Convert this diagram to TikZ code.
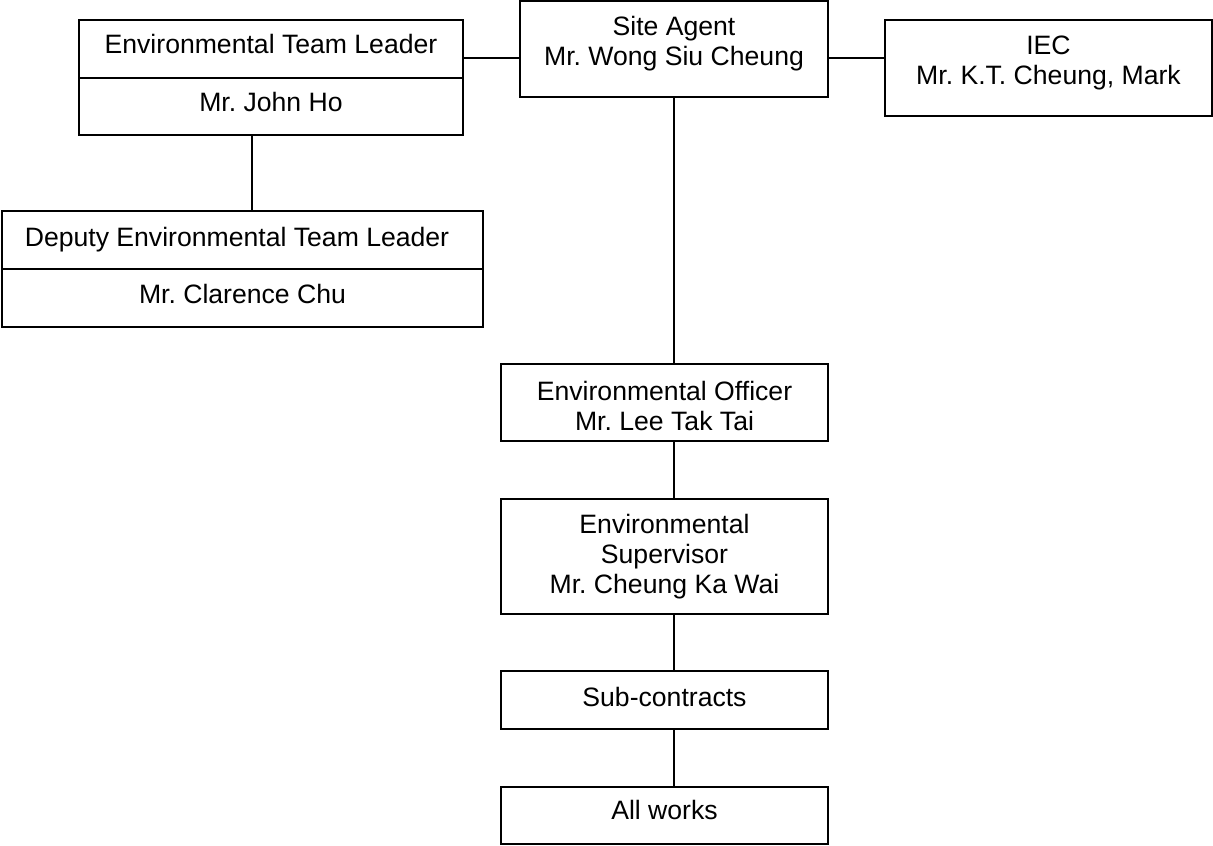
\documentclass[tikz,border=0pt]{standalone}
\usepackage{fontspec}
\setmainfont{Liberation Sans}
\newcommand{\mlines}[1]{\begin{tabular}[t]{@{}c@{}}#1\end{tabular}}
\begin{document}
\frenchspacing
\begin{tikzpicture}[x=1pt,y=-1pt,
  box/.style={draw, rectangle, line width=2pt, inner sep=0pt, outer sep=0pt},
  txt/.style={inner sep=0pt, anchor=base, font=\fontsize{26.6}{30}\selectfont\frenchspacing},
  conn/.style={line width=1.5pt}]
\useasboundingbox (0,0) rectangle (1213,846);
% boxes
\node[box, minimum width=384pt, minimum height=58pt] (etlA) at (271,49) {};
\node[box, minimum width=384pt, minimum height=57pt] (etlB) at (271,106.5) {};
\node[box, minimum width=308pt, minimum height=96pt] (sa) at (674,49) {};
\node[box, minimum width=327pt, minimum height=96pt] (iec) at (1048.5,68) {};
\node[box, minimum width=481pt, minimum height=58pt] (depA) at (242.5,240) {};
\node[box, minimum width=481pt, minimum height=58pt] (depB) at (242.5,298) {};
\node[box, minimum width=327pt, minimum height=77pt] (eo) at (664.5,402.5) {};
\node[box, minimum width=327pt, minimum height=115pt] (es) at (664.5,556.5) {};
\node[box, minimum width=327pt, minimum height=58pt] (sc) at (664.5,700) {};
\node[box, minimum width=327pt, minimum height=57pt] (aw) at (664.5,815.5) {};
% texts
\node[txt] (tetlA) at (271,53) {Environmental Team Leader};
\node[txt] (tetlB) at (271,111) {Mr. John Ho};
\node[txt] (tsa) at (674,35) {\mlines{Site Agent\\Mr. Wong Siu Cheung}};
\node[txt] (tiec) at (1048.5,54.5) {\mlines{IEC\\Mr. K.T. Cheung, Mark}};
\node[txt] (tdepA) at (237,246) {Deputy Environmental Team Leader};
\node[txt] (tdepB) at (242.5,303) {Mr. Clarence Chu};
\node[txt] (teo) at (664.5,400) {\mlines{Environmental Officer\\Mr. Lee Tak Tai}};
\node[txt] (tes) at (664.5,533) {\mlines{Environmental\\Supervisor\\Mr. Cheung Ka Wai}};
\node[txt] (tsc) at (664.5,706) {Sub-contracts};
\node[txt] (taw) at (664.5,819) {All works};
% connectors
\draw[conn] ([yshift=-9pt]sa.west) -- ([yshift=-9pt]sa.west -| etlA.east);
\draw[conn] ([yshift=-9pt]sa.east) -- ([yshift=-9pt]sa.east -| iec.west);
\draw[conn] ([xshift=-19pt]etlB.south) -- ([xshift=-19pt]etlB.south |- depA.north);
\draw[conn] (sa.south) -- (sa.south |- eo.north);
\draw[conn] (sa.south |- eo.south) -- (sa.south |- es.north);
\draw[conn] (sa.south |- es.south) -- (sa.south |- sc.north);
\draw[conn] (sa.south |- sc.south) -- (sa.south |- aw.north);
\end{tikzpicture}
\end{document}
